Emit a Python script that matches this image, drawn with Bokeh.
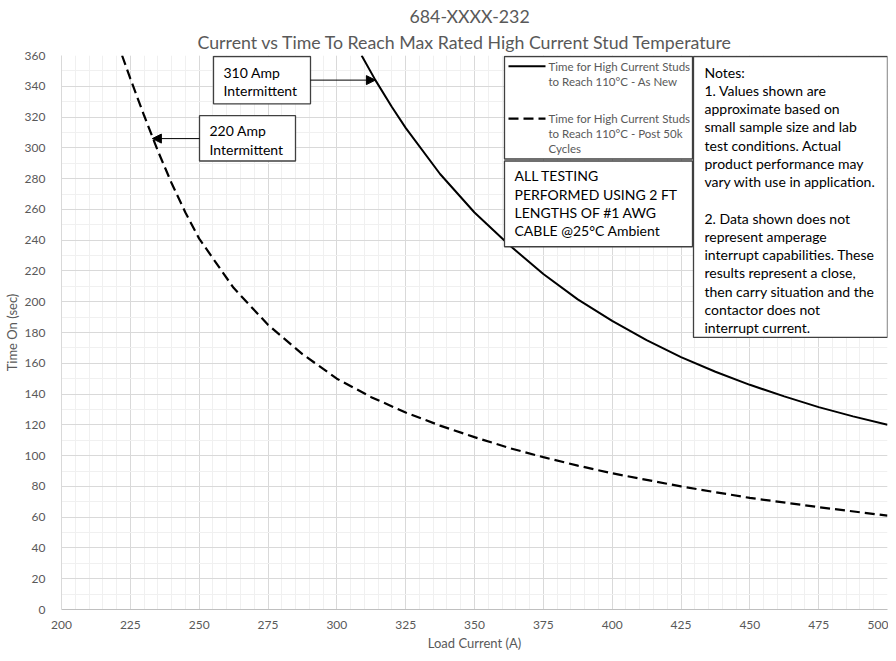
from bokeh.plotting import figure
from bokeh.models import Range1d, SingleIntervalTicker, Title, Arrow, NormalHead
from bokeh.core.properties import value
from bokeh.embed import file_html
from bokeh.resources import INLINE

# ---- data ----
solid_x = [309, 314, 320, 325, 337.5, 350, 362.5, 375, 387.5, 400, 412.5, 425,
           437.5, 450, 462.5, 475, 487.5, 500]
solid_y = [360, 344, 326.5, 313, 283, 258, 237, 218, 201.5, 187.5, 175, 164,
           154.5, 146, 138.5, 131.5, 125.5, 120]

dashed_x = [222, 225, 230, 235, 240, 245, 250, 262.5, 275, 287.5, 300, 312.5,
            325, 337.5, 350, 362.5, 375, 387.5, 400, 425, 450, 475, 500]
dashed_y = [360, 345, 321, 298, 277, 258, 241, 209, 185, 166, 150, 138,
            128, 119.5, 112, 105, 99, 93.5, 88.5, 80, 72.5, 66.5, 61]

title_top = "684-XXXX-232"
title_main = "Current vs Time To Reach Max Rated High Current Stud Temperature"
x_label = "Load Current (A)"
y_label = "Time On (sec)"

legend_solid = ["Time for High Current Studs", "to Reach 110°C - As New"]
legend_dashed = ["Time for High Current Studs", "to Reach 110°C - Post 50k", "Cycles"]
testing_lines = ["ALL TESTING", "PERFORMED USING 2 FT", "LENGTHS OF #1 AWG",
                 "CABLE @25°C Ambient"]
notes_lines = ["Notes:", "1. Values shown are", "approximate based on",
               "small sample size and lab", "test conditions.  Actual",
               "product performance may", "vary with use in application.", "",
               "2. Data shown does not", "represent amperage",
               "interrupt capabilities. These", "results represent a close,",
               "then carry situation and the", "contactor does not",
               "interrupt current."]
callout_310 = ["310 Amp", "Intermittent"]
callout_220 = ["220 Amp", "Intermittent"]
point_310 = (314, 344)
point_220 = (233, 306)

FONT = "Lato"
GRAY = "#595959"

# frame geometry on the reference page (for placing annotation boxes)
FL, FR, FT, FB = 61, 887, 56, 618
X0, X1, Y0, Y1 = 200, 500, 0, 360


def fx(px):
    return X0 + (px - FL) * (X1 - X0) / (FR - FL)


def fy(py):
    return Y0 + (FB - py) * (Y1 - Y0) / (FB - FT)


p = figure(frame_width=FR - FL, frame_height=554, output_backend="svg",
           toolbar_location=None,
           x_range=Range1d(X0, X1), y_range=Range1d(Y0, Y1), title=None,
           min_border_left=53, min_border_right=1, min_border_top=10,
           min_border_bottom=10)
p.outline_line_color = None
p.background_fill_color = "white"

xt = SingleIntervalTicker(interval=25, num_minor_ticks=5)
yt = SingleIntervalTicker(interval=20, num_minor_ticks=2)
p.xaxis[0].ticker = xt
p.yaxis[0].ticker = yt
p.xgrid[0].ticker = xt
p.ygrid[0].ticker = yt
for g in (p.xgrid[0], p.ygrid[0]):
    g.grid_line_color = "#d9d9d9"
    g.grid_line_width = 1
    g.minor_grid_line_color = "#f0f0f0"
    g.minor_grid_line_width = 1

for ax in (p.xaxis[0], p.yaxis[0]):
    ax.major_tick_line_color = None
    ax.minor_tick_line_color = None
    ax.major_label_text_font = FONT
    ax.major_label_text_font_size = "12px"
    ax.major_label_text_color = GRAY
    ax.axis_label_text_font = FONT
    ax.axis_label_text_font_size = "13px"
    ax.axis_label_text_font_style = "normal"
    ax.axis_label_text_color = GRAY
p.xaxis[0].axis_line_color = "#bfbfbf"
p.yaxis[0].axis_line_color = "#d9d9d9"
p.xaxis[0].axis_label = x_label
p.yaxis[0].axis_label = y_label
p.xaxis[0].major_label_standoff = 5
p.yaxis[0].major_label_standoff = 10
p.xaxis[0].axis_label_standoff = 3
p.yaxis[0].axis_label_standoff = 2

p.add_layout(Title(text=title_main, align="left", offset=197 - FL, text_font=FONT,
                   text_font_size="17.75px", text_font_style="normal",
                   text_color=GRAY, standoff=6), "above")
p.add_layout(Title(text=title_top, align="left", offset=409 - FL, text_font=FONT,
                   text_font_size="17.75px", text_font_style="normal",
                   text_color=GRAY, standoff=-3), "above")
p.add_layout(Title(text=" ", text_font_size="2px", standoff=0), "above")

# curves
p.line(solid_x, solid_y, line_color="black", line_width=2)
p.line(dashed_x, dashed_y, line_color="black", line_width=2.2, line_dash="10 5")


def box(l, t, r, b):
    p.quad(left=[fx(l)], right=[fx(r)], top=[fy(t)], bottom=[fy(b)],
           fill_color="white", line_color="#404040", line_width=1.3)


def block(lines, px, py0, dy, size, color):
    p.text(x=[fx(px)] * len(lines), y=[fy(py0 + i * dy) for i in range(len(lines))],
           text=lines, text_font=value(FONT), text_font_size=size,
           text_color=color, text_baseline="middle", text_align="left")


# legend box
box(504, 57, 692, 161)
p.line([fx(508), fx(545)], [fy(67), fy(67)], line_color="black", line_width=2)
p.line([fx(508), fx(545)], [fy(120), fy(120)], line_color="black", line_width=2.2,
       line_dash="10 5")
block(legend_solid, 548, 67, 15, "11.5px", GRAY)
block(legend_dashed, 548, 120, 15, "11.5px", GRAY)

# testing box
box(504, 163, 692, 250)
block(testing_lines, 514, 178, 18.5, "14px", "black")

# notes box
box(693, 57, 887, 342)
block(notes_lines, 704, 73, 18.5, "14px", "black")

# callouts
box(213, 57, 310, 105)
block(callout_310, 223, 73, 18.5, "14px", "black")
box(199, 117, 295, 163)
block(callout_220, 209, 132.5, 18.5, "14px", "black")

p.add_layout(Arrow(end=NormalHead(size=9, fill_color="black", line_color="black"),
                   x_start=fx(310), y_start=point_310[1],
                   x_end=point_310[0], y_end=point_310[1],
                   line_color="black", line_width=1))
p.add_layout(Arrow(end=NormalHead(size=9, fill_color="black", line_color="black"),
                   x_start=fx(199), y_start=point_220[1],
                   x_end=point_220[0], y_end=point_220[1],
                   line_color="black", line_width=1))

open("out.html", "w").write(file_html(p, INLINE))
